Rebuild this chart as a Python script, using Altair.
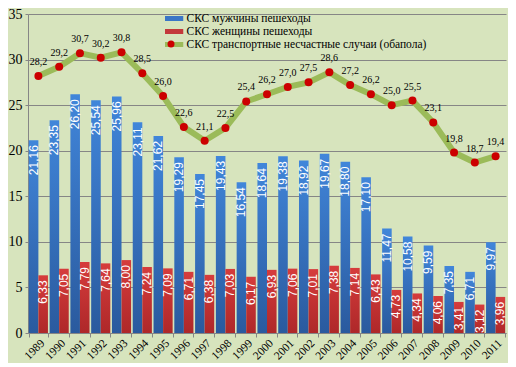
import altair as alt
import pandas as pd

years = [str(y) for y in range(1989, 2012)]
men = [21.16, 23.35, 26.20, 25.54, 25.96, 23.11, 21.62, 19.29, 17.45, 19.43, 16.54,
       18.64, 19.38, 18.92, 19.67, 18.80, 17.10, 11.47, 10.58, 9.59, 7.35, 6.71, 9.97]
women = [6.33, 7.05, 7.79, 7.64, 8.00, 7.24, 7.09, 6.71, 6.38, 7.03, 6.17,
         6.93, 7.06, 7.01, 7.38, 7.14, 6.43, 4.73, 4.34, 4.06, 3.41, 3.12, 3.96]
total = [28.2, 29.2, 30.7, 30.2, 30.8, 28.5, 26.0, 22.6, 21.1, 22.5, 25.4,
         26.2, 27.0, 27.5, 28.6, 27.2, 26.2, 25.0, 25.5, 23.1, 19.8, 18.7, 19.4]
y_ticks = [0, 5, 10, 15, 20, 25, 30, 35]

MEN = "СКС мужчины пешеходы"
WOMEN = "СКС женщины пешеходы"
TOTAL = "СКС транспортные несчастные случаи (обапола)"

bars_df = pd.DataFrame({
    "year": years * 2,
    "series": [MEN] * len(years) + [WOMEN] * len(years),
    "value": men + women,
})
bars_df["label"] = bars_df["value"].map(lambda v: f"{v:.2f}".replace(".", ","))
line_df = pd.DataFrame({"year": years, "series": TOTAL, "value": total})
line_df["label"] = line_df["value"].map(lambda v: f"{v:.1f}".replace(".", ","))

BLUE, RED, GREEN, DOT = "#3a76c6", "#c3393b", "#9bbb59", "#cc0000"
blue_grad = alt.LinearGradient(gradient="linear", x1=0, y1=0, x2=0, y2=1, stops=[
    alt.GradientStop(offset=0, color="#4186da"), alt.GradientStop(offset=1, color="#2a5a9e")])
red_grad = alt.LinearGradient(gradient="linear", x1=0, y1=0, x2=0, y2=1, stops=[
    alt.GradientStop(offset=0, color="#d63c3c"), alt.GradientStop(offset=1, color="#ae2829")])

x_enc = alt.X("year:N", scale=alt.Scale(paddingInner=0.08, paddingOuter=0.04),
              axis=alt.Axis(title=None, labelAngle=-45, labelAlign="right", labelBaseline="top",
                            labelFont="Liberation Serif", labelFontSize=11.5, labelColor="#000",
                            tickBand="extent", tickSize=4, tickColor="#868686",
                            domainColor="#868686", labelPadding=0))
y_enc = alt.Y("value:Q", scale=alt.Scale(domain=[0, 35], nice=False),
              axis=alt.Axis(title=None, values=y_ticks, labelFont="Liberation Serif",
                            labelFontSize=14, labelColor="#000", gridColor="#868686",
                            tickColor="#868686", tickSize=3, domainColor="#868686",
                            labelPadding=3))
xoff = alt.XOffset("series:N", scale=alt.Scale(domain=[MEN, WOMEN], paddingInner=0, paddingOuter=0))

base_bars = alt.Chart(bars_df)
men_bars = base_bars.transform_filter(alt.datum.series == MEN).mark_bar(color=blue_grad).encode(
    x=x_enc, y=y_enc, xOffset=xoff)
women_bars = base_bars.transform_filter(alt.datum.series == WOMEN).mark_bar(color=red_grad).encode(
    x=x_enc, y=y_enc, xOffset=xoff)
bar_text = base_bars.mark_text(angle=270, align="right", baseline="middle", dx=-5,
                               color="white", font="Liberation Sans", fontSize=12).encode(
    x=x_enc, y=y_enc, xOffset=xoff, text="label:N")

line = alt.Chart(line_df).mark_line(strokeWidth=6).encode(
    x=x_enc, y=y_enc,
    color=alt.Color("series:N", scale=alt.Scale(domain=[MEN, WOMEN, TOTAL], range=[BLUE, RED, GREEN]),
                    legend=alt.Legend(title=None, orient="none", legendX=137, legendY=-2,
                                      symbolType="M-5,0H5", symbolStrokeWidth=5, symbolSize=25,
                                      labelFont="Liberation Serif", labelFontSize=11.5,
                                      labelColor="#000", rowPadding=0, padding=0,
                                      clipHeight=13,
                                      labelOffset=10, labelLimit=400)))
points = alt.Chart(line_df).mark_circle(size=64, opacity=1).encode(
    x=x_enc, y=y_enc,
    fill=alt.Fill("series:N", scale=alt.Scale(domain=[TOTAL], range=[DOT]),
                  legend=alt.Legend(title=None, orient="none", legendX=138, legendY=25,
                                    symbolType="circle", symbolSize=49, symbolStrokeWidth=0,
                                    labelExpr="''", padding=0)))
line_text = alt.Chart(line_df).mark_text(dy=-14, font="Liberation Serif", fontSize=10, color="#000").encode(
    x=x_enc, y=y_enc, text="label:N")

chart = alt.layer(men_bars, women_bars, bar_text, line, points, line_text).resolve_scale(
    color="independent", fill="independent"
).properties(
    width=478, height=319,
    autosize=alt.AutoSizeParams(type="none"),
    padding={"left": 20, "top": 6, "right": 2, "bottom": 30},
    background="#d7e4bd",
).configure_view(stroke=None)

chart.save("out.html", embed_options={"renderer": "svg", "actions": False})
